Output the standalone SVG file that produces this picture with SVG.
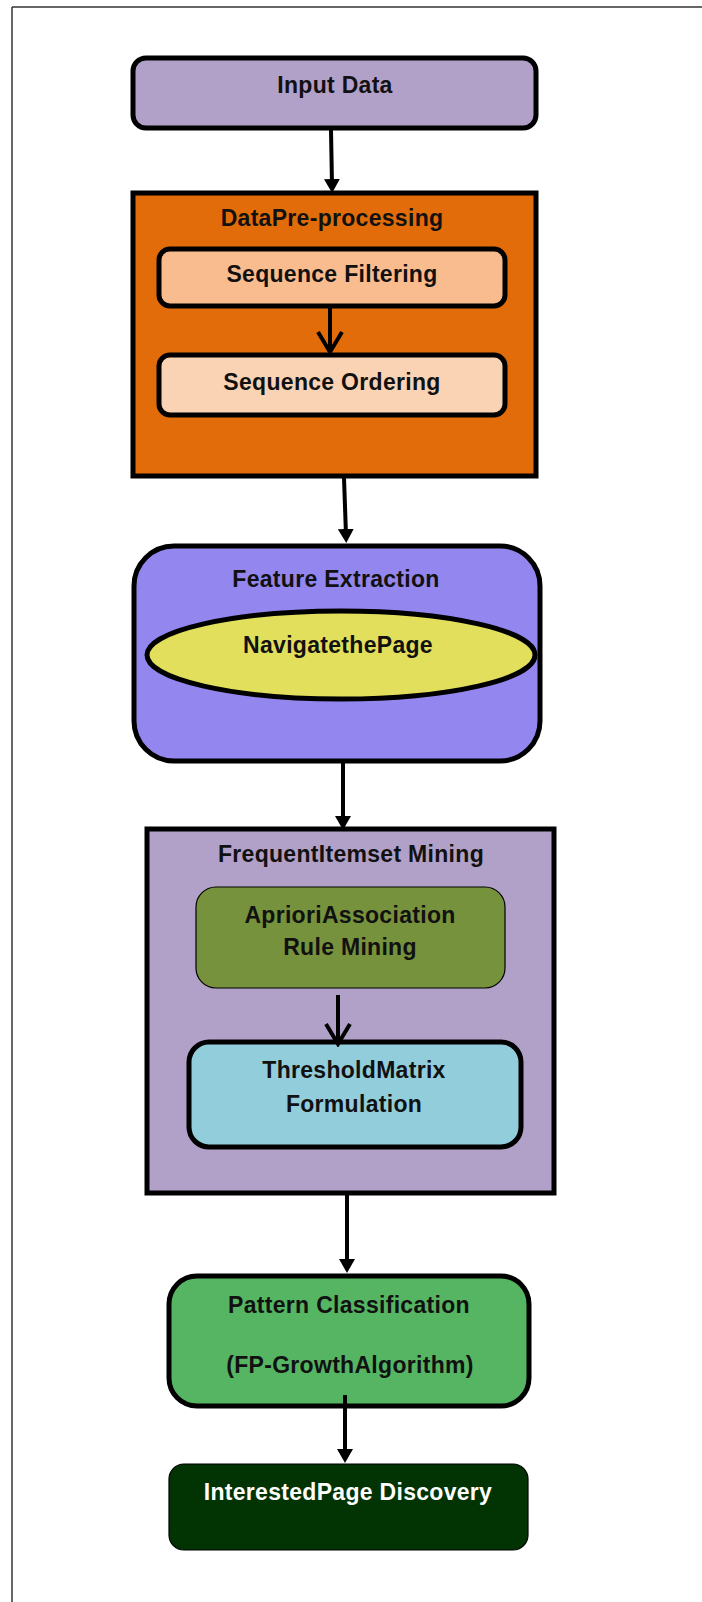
<svg xmlns="http://www.w3.org/2000/svg" width="702" height="1602" viewBox="0 0 702 1602">
<style>
.t{font-family:"Liberation Sans",Arial,sans-serif;font-weight:bold;font-size:23px;letter-spacing:0.3px;fill:#111;text-anchor:middle}
.w{fill:#fff}
.thick{stroke:#000;stroke-width:5}
.thin{stroke:#000;stroke-width:1.2}
.c{stroke:#000;stroke-width:4;fill:none}
</style>
<defs>
<marker id="tri" markerUnits="userSpaceOnUse" viewBox="0 0 14 16" refX="6" refY="8" markerWidth="14" markerHeight="16" orient="auto">
<path d="M0,0 L14,8 L0,16 Z" fill="#000"/>
</marker>
<marker id="chev" markerUnits="userSpaceOnUse" viewBox="-3 -15 26 30" refX="20" refY="0" markerWidth="26" markerHeight="30" orient="auto">
<path d="M0,-12 L20,0 L0,12" fill="none" stroke="#000" stroke-width="4"/>
</marker>
</defs>
<g id="frame">
<line x1="12" y1="7" x2="702" y2="7" stroke="#333" stroke-width="1.5"/>
<line x1="12" y1="7" x2="12" y2="1602" stroke="#333" stroke-width="1.5"/>
</g>
<g id="input-data">
<rect x="133" y="58" width="403" height="70" rx="13" fill="#B1A0C7" class="thick"/>
<text x="335" y="93" class="t">Input Data</text>
</g>
<g id="data-preprocessing">
<rect x="133" y="193" width="403" height="283" fill="#E36C0A" class="thick"/>
<text x="332" y="226" class="t">DataPre-processing</text>
</g>
<g id="sequence-filtering">
<rect x="159" y="249" width="346" height="57" rx="11" fill="#F8BC8F" class="thick"/>
<text x="332" y="282" class="t">Sequence Filtering</text>
</g>
<g id="sequence-ordering">
<rect x="159" y="355" width="346" height="60" rx="11" fill="#FAD3B4" class="thick"/>
<text x="332" y="390" class="t">Sequence Ordering</text>
</g>
<g id="feature-extraction">
<rect x="134" y="546" width="406" height="215" rx="40" fill="#9386EF" class="thick"/>
<text x="336" y="587" class="t">Feature Extraction</text>
</g>
<g id="navigate-the-page">
<ellipse cx="341" cy="655" rx="194" ry="44" fill="#E1DF5C" class="thick"/>
<text x="338" y="653" class="t">NavigatethePage</text>
</g>
<g id="frequent-itemset-mining">
<rect x="147" y="829" width="407" height="364" fill="#B1A0C7" class="thick"/>
<text x="351" y="862" class="t">FrequentItemset Mining</text>
</g>
<g id="apriori">
<rect x="196" y="887" width="309" height="101" rx="20" fill="#76923C" class="thin"/>
<text x="350" y="923" class="t">AprioriAssociation</text>
<text x="350" y="955" class="t">Rule Mining</text>
</g>
<g id="threshold-matrix">
<rect x="189" y="1042" width="332" height="105" rx="20" fill="#92CDDC" class="thick"/>
<text x="354" y="1078" class="t">ThresholdMatrix</text>
<text x="354" y="1112" class="t">Formulation</text>
</g>
<g id="pattern-classification">
<rect x="169" y="1276" width="360" height="130" rx="28" fill="#56B562" class="thick"/>
<text x="349" y="1313" class="t">Pattern Classification</text>
<text x="350" y="1373" class="t">(FP-GrowthAlgorithm)</text>
</g>
<g id="interested-page-discovery">
<rect x="169" y="1464" width="359" height="86" rx="15" fill="#023302" class="thin"/>
<text x="348" y="1500" class="t w">InterestedPage Discovery</text>
</g>
<g id="connectors">
<line x1="331" y1="130" x2="332" y2="185" class="c" marker-end="url(#tri)"/>
<line x1="344" y1="478" x2="346" y2="535" class="c" marker-end="url(#tri)"/>
<line x1="343" y1="763" x2="343" y2="822" class="c" marker-end="url(#tri)"/>
<line x1="347" y1="1195" x2="347" y2="1265" class="c" marker-end="url(#tri)"/>
<line x1="345" y1="1395" x2="345" y2="1455" class="c" marker-end="url(#tri)"/>
<line x1="330" y1="308" x2="330" y2="352" class="c" marker-end="url(#chev)"/>
<line x1="338" y1="995" x2="338" y2="1044" class="c" marker-end="url(#chev)"/>
</g>
</svg>
